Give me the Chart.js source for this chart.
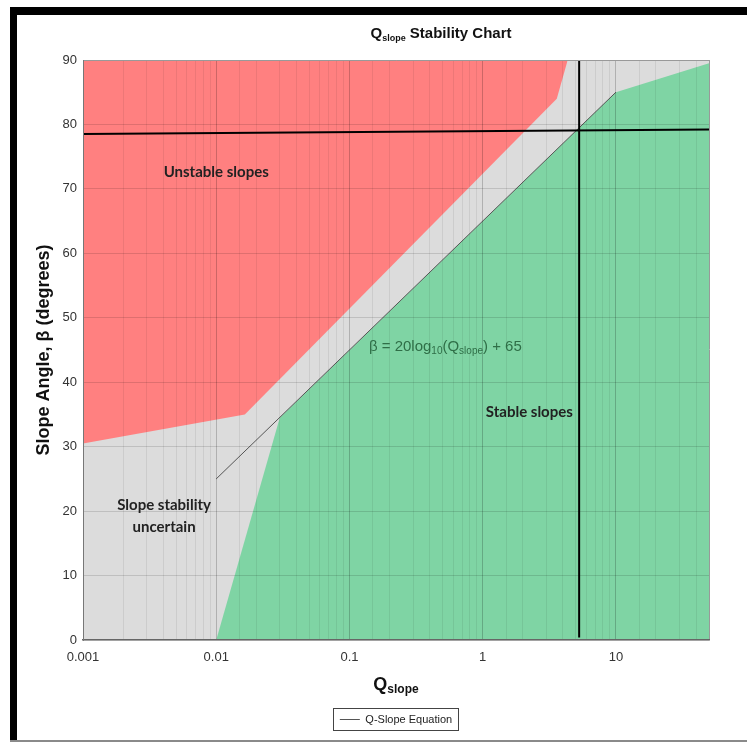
<!DOCTYPE html>
<html>
<head>
<meta charset="utf-8">
<script src="https://cdn.jsdelivr.net/npm/chart.js@4.4.1/dist/chart.umd.min.js"></script>
<style>
  html, body { margin: 0; padding: 0; background: #fff; }
  canvas { display: block; }
</style>
</head>
<body>
<canvas id="chart" width="747" height="742"></canvas>
<script>
// zone boundaries (Q_slope, beta in degrees)
const unstableQ = [0.001, 0.0164, 3.6, 4.35];
const unstableBeta = [30.5, 35, 84, 90];
const stableQ = [0.01, 0.03, 10, 50];
const stableBeta = [0, 34.5, 85, 89.5];
const equationQ = [0.01, 10];
const equationBeta = [25, 85];
const markerHQ = [0.001, 50];
const markerHBeta = [78.5, 79.2];
const markerVQ = [5.3, 5.3];
const markerVBeta = [0.4, 90];
const xTickLabels = ['0.001', '0.01', '0.1', '1', '10'];

const sans = '"Liberation Sans", Arial, sans-serif';
const narrow = '"Liberation Sans Narrow", "Liberation Sans", Arial, sans-serif';
const label = 'Lato, "Open Sans", sans-serif';

const pts = (qs, bs) => qs.map((q, i) => ({ x: q, y: bs[i] }));

function drawRich(ctx, parts, x, y, align) {
    let w = 0;
    parts.forEach(p => { ctx.font = p[1]; w += ctx.measureText(p[0]).width; });
    let cx = align === 'center' ? x - w / 2 : x;
    parts.forEach(p => {
        ctx.font = p[1];
        ctx.fillText(p[0], cx, y + (p[2] || 0));
        cx += ctx.measureText(p[0]).width;
    });
}

const decorations = {
    id: 'decorations',
    beforeDraw(chart) {
        const { ctx, chartArea: a, width, height } = chart;
        ctx.save();
        ctx.fillStyle = '#fff';
        ctx.fillRect(0, 0, width, height);
        // "uncertain" zone is the plot background
        ctx.fillStyle = 'rgb(220,220,220)';
        ctx.fillRect(a.left, a.top, a.width, a.height);
        // frame
        ctx.fillStyle = '#000';
        ctx.fillRect(10, 7, width - 10, 8);
        ctx.fillRect(10, 7, 7, height - 7);
        ctx.fillStyle = '#8a8a8a';
        ctx.fillRect(10, height - 2, width - 10, 2);
        ctx.restore();
    },
    afterDraw(chart) {
        const { ctx } = chart;
        const x = chart.scales.x, y = chart.scales.y;
        ctx.save();
        ctx.textBaseline = 'alphabetic';
        ctx.textAlign = 'left';

        // title
        ctx.fillStyle = '#111';
        drawRich(ctx, [
            ['Q', 'bold 15px ' + narrow],
            ['slope', 'bold 9px ' + narrow, 3],
            [' Stability Chart', 'bold 15px ' + narrow]
        ], 441, 38, 'center');

        // x axis title
        drawRich(ctx, [
            ['Q', 'bold 18px ' + sans],
            ['slope', 'bold 12px ' + sans, 3]
        ], (chart.chartArea.left + chart.chartArea.right) / 2, 690, 'center');

        // zone labels
        ctx.fillStyle = '#222';
        ctx.textAlign = 'center';
        ctx.font = 'bold 15px ' + label;
        ctx.fillText('Unstable slopes', x.getPixelForValue(0.01), y.getPixelForValue(72.6) + 5);
        ctx.fillText('Slope stability', x.getPixelForValue(0.00406), y.getPixelForValue(20.9) + 5);
        ctx.fillText('uncertain', x.getPixelForValue(0.00406), y.getPixelForValue(17.5) + 5);
        ctx.fillText('Stable slopes', x.getPixelForValue(2.24), y.getPixelForValue(35.4) + 5);

        // equation text
        ctx.textAlign = 'left';
        ctx.fillStyle = '#2f6e47';
        const f = '15px ' + sans, s = '10px ' + sans;
        drawRich(ctx, [
            ['\u03b2 = 20log', f],
            ['10', s, 3],
            ['(Q', f],
            ['slope', s, 3],
            [') + 65', f]
        ], x.getPixelForValue(0.14), y.getPixelForValue(45.6) + 5, 'left');

        // legend box
        const hb = chart.legend.legendHitBoxes[0];
        if (hb) {
            const cy = hb.top + hb.height / 2;
            ctx.strokeStyle = '#444';
            ctx.lineWidth = 1;
            ctx.strokeRect(Math.round(hb.left - 7) + 0.5, Math.round(cy - 12) + 0.5, Math.round(hb.width + 13), 22);
        }
        ctx.restore();
    }
};

const ctx = document.getElementById('chart').getContext('2d');

new Chart(ctx, {
    type: 'line',
    data: {
        datasets: [
            {
                label: 'markerH',
                data: pts(markerHQ, markerHBeta),
                borderColor: '#000',
                borderWidth: 2,
                pointRadius: 0,
                fill: false
            },
            {
                label: 'markerV',
                data: pts(markerVQ, markerVBeta),
                borderColor: '#000',
                borderWidth: 2,
                pointRadius: 0,
                fill: false
            },
            {
                label: 'Q-Slope Equation',
                data: pts(equationQ, equationBeta),
                borderColor: '#555',
                borderWidth: 1,
                pointRadius: 0,
                fill: false
            },
            {
                label: 'Unstable slopes',
                data: pts(unstableQ, unstableBeta),
                borderWidth: 0,
                borderColor: 'rgba(0,0,0,0)',
                backgroundColor: 'rgb(255,128,128)',
                pointRadius: 0,
                fill: 'end'
            },
            {
                label: 'Stable slopes',
                data: pts(stableQ, stableBeta),
                borderWidth: 0,
                borderColor: 'rgba(0,0,0,0)',
                backgroundColor: 'rgb(127,212,164)',
                pointRadius: 0,
                fill: 'start'
            }
        ]
    },
    options: {
        responsive: false,
        animation: false,
        devicePixelRatio: 1,
        events: [],
        layout: { padding: { top: 60, right: 38, left: 0, bottom: 7 } },
        scales: {
            x: {
                type: 'logarithmic',
                min: 0.001,
                max: 50,
                afterFit: (scale) => { scale.height = 64; },
                border: { color: '#666', width: 1.5, z: 2 },
                grid: {
                    z: 1,
                    drawTicks: false,
                    color: (c) => {
                        const v = c.tick ? c.tick.value : 0;
                        if (v >= 50) return '#999';
                        const l = Math.log10(v);
                        return Math.abs(l - Math.round(l)) < 1e-6 ? 'rgba(0,0,0,0.2)' : 'rgba(0,0,0,0.07)';
                    }
                },
                ticks: {
                    autoSkip: false,
                    maxRotation: 0,
                    padding: 10,
                    color: '#333',
                    font: { size: 13, family: sans },
                    callback: (v) => {
                        const t = String(+Number(v).toPrecision(6));
                        return xTickLabels.includes(t) ? t : '';
                    }
                }
            },
            y: {
                min: 0,
                max: 90,
                afterFit: (scale) => { scale.width = 83; },
                border: { color: '#777', width: 1, z: 2 },
                grid: {
                    z: 1,
                    drawTicks: false,
                    color: (c) => (c.tick && c.tick.value === 90) ? '#999' : 'rgba(0,0,0,0.13)'
                },
                ticks: {
                    stepSize: 10,
                    padding: 6,
                    color: '#333',
                    font: { size: 13, family: sans }
                },
                title: {
                    display: true,
                    text: 'Slope Angle, \u03b2 (degrees)',
                    color: '#111',
                    font: { size: 18, weight: 'bold', family: sans },
                    padding: { top: 33, bottom: 0 }
                }
            }
        },
        plugins: {
            title: { display: false },
            tooltip: { enabled: false },
            legend: {
                position: 'bottom',
                fullSize: false,
                labels: {
                    filter: (item) => item.text === 'Q-Slope Equation',
                    usePointStyle: true,
                    pointStyle: 'line',
                    pointStyleWidth: 20,
                    padding: 10,
                    color: '#222',
                    font: { size: 11, family: sans }
                }
            }
        }
    },
    plugins: [decorations]
});
</script>
</body>
</html>
